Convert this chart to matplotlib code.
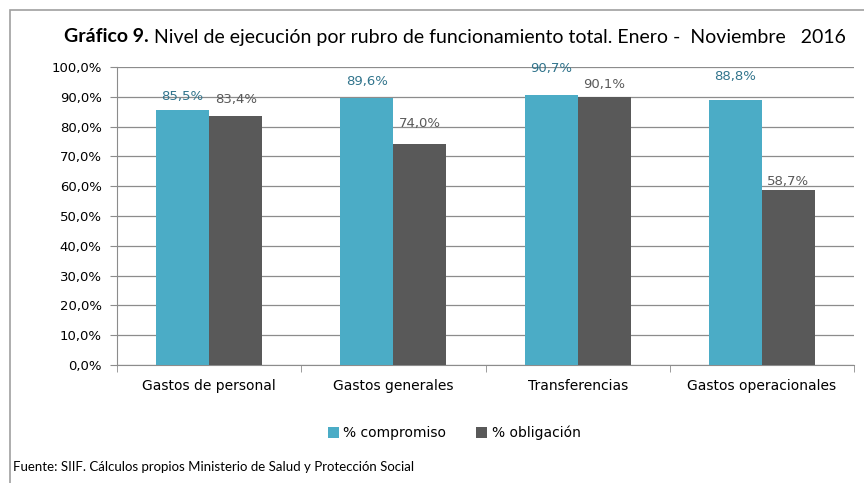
import numpy as np
import matplotlib.pyplot as plt
from matplotlib.patches import Rectangle

categorias = ['Gastos de personal', 'Gastos generales', 'Transferencias', 'Gastos operacionales']
compromiso = [85.5, 89.6, 90.7, 88.8]
obligacion = [83.4, 74.0, 90.1, 58.7]
yticks = np.arange(0, 101, 10)

# label offsets in points (Excel placed them unevenly)
off_comp = [10, 12, 19, 17]
off_obl = [12, 15, 9, 6]

c_comp = '#4BACC6'
c_obl = '#595959'

plt.rcParams['font.family'] = ['DejaVu Sans']

fig = plt.figure(figsize=(8.64, 4.83), dpi=100)
ax = fig.add_axes([117/864, 1-365/483, (854-117)/864, (365-67)/483])

x = np.arange(len(categorias))
w = 0.288
ax.bar(x - w/2, compromiso, w, color=c_comp, label='% compromiso', zorder=3)
ax.bar(x + w/2, obligacion, w, color=c_obl, label='% obligación', zorder=3)

for i in range(len(x)):
    ax.annotate(f'{compromiso[i]:.1f}%'.replace('.', ','), (x[i] - w/2, compromiso[i]),
                xytext=(0, off_comp[i]), textcoords='offset points', ha='center', va='center',
                fontsize=9.5, color='#31748C')
    ax.annotate(f'{obligacion[i]:.1f}%'.replace('.', ','), (x[i] + w/2, obligacion[i]),
                xytext=(0, off_obl[i]), textcoords='offset points', ha='center', va='center',
                fontsize=9.5, color='#595959')

ax.set_xlim(-0.5, len(x) - 0.5)
ax.set_ylim(0, 100)
ax.set_yticks(yticks)
ax.set_yticklabels([f'{v:.1f}%'.replace('.', ',') for v in yticks], fontsize=9.5)
ax.yaxis.grid(True, color='#8C8C8C', linewidth=0.9, zorder=0)
ax.set_xticks(x)
ax.set_xticklabels(categorias, fontsize=10)
ax.set_xticks(np.arange(-0.5, len(x)), minor=True)
ax.tick_params(axis='x', which='major', length=0, pad=10)
ax.tick_params(axis='x', which='minor', length=5, color='#8C8C8C', direction='out')
ax.tick_params(axis='y', length=5, color='#8C8C8C', pad=6)
for s in ['top', 'right']:
    ax.spines[s].set_visible(False)
for s in ['left', 'bottom']:
    ax.spines[s].set_color('#8C8C8C')

ax.legend(loc='center', bbox_to_anchor=(454/864, 1-433/483), bbox_transform=fig.transFigure,
          ncol=2, frameon=False, fontsize=10, handlelength=0.8, handleheight=0.8,
          handletextpad=0.3, columnspacing=2.2)

fig.text(149/864, 1-37/483, 'Gráfico 9.', fontsize=14, fontweight='bold', va='center', ha='right',
         family=['Lato', 'DejaVu Sans'])
fig.text(154/864, 1-37/483, 'Nivel de ejecución por rubro de funcionamiento total. Enero -  Noviembre   2016',
         fontsize=14, va='center', family=['Lato', 'DejaVu Sans'])
fig.text(13/864, 1-467/483, 'Fuente: SIIF. Cálculos propios Ministerio de Salud y Protección Social',
         fontsize=9.5, va='center', family=['Lato', 'DejaVu Sans'])

fig.patches.append(Rectangle((10/864, -0.05), 1.0, 1-10/483+0.05, transform=fig.transFigure,
                             fill=False, edgecolor='#A0A0A0', linewidth=1.2))

fig.savefig('out.png', dpi=100)
